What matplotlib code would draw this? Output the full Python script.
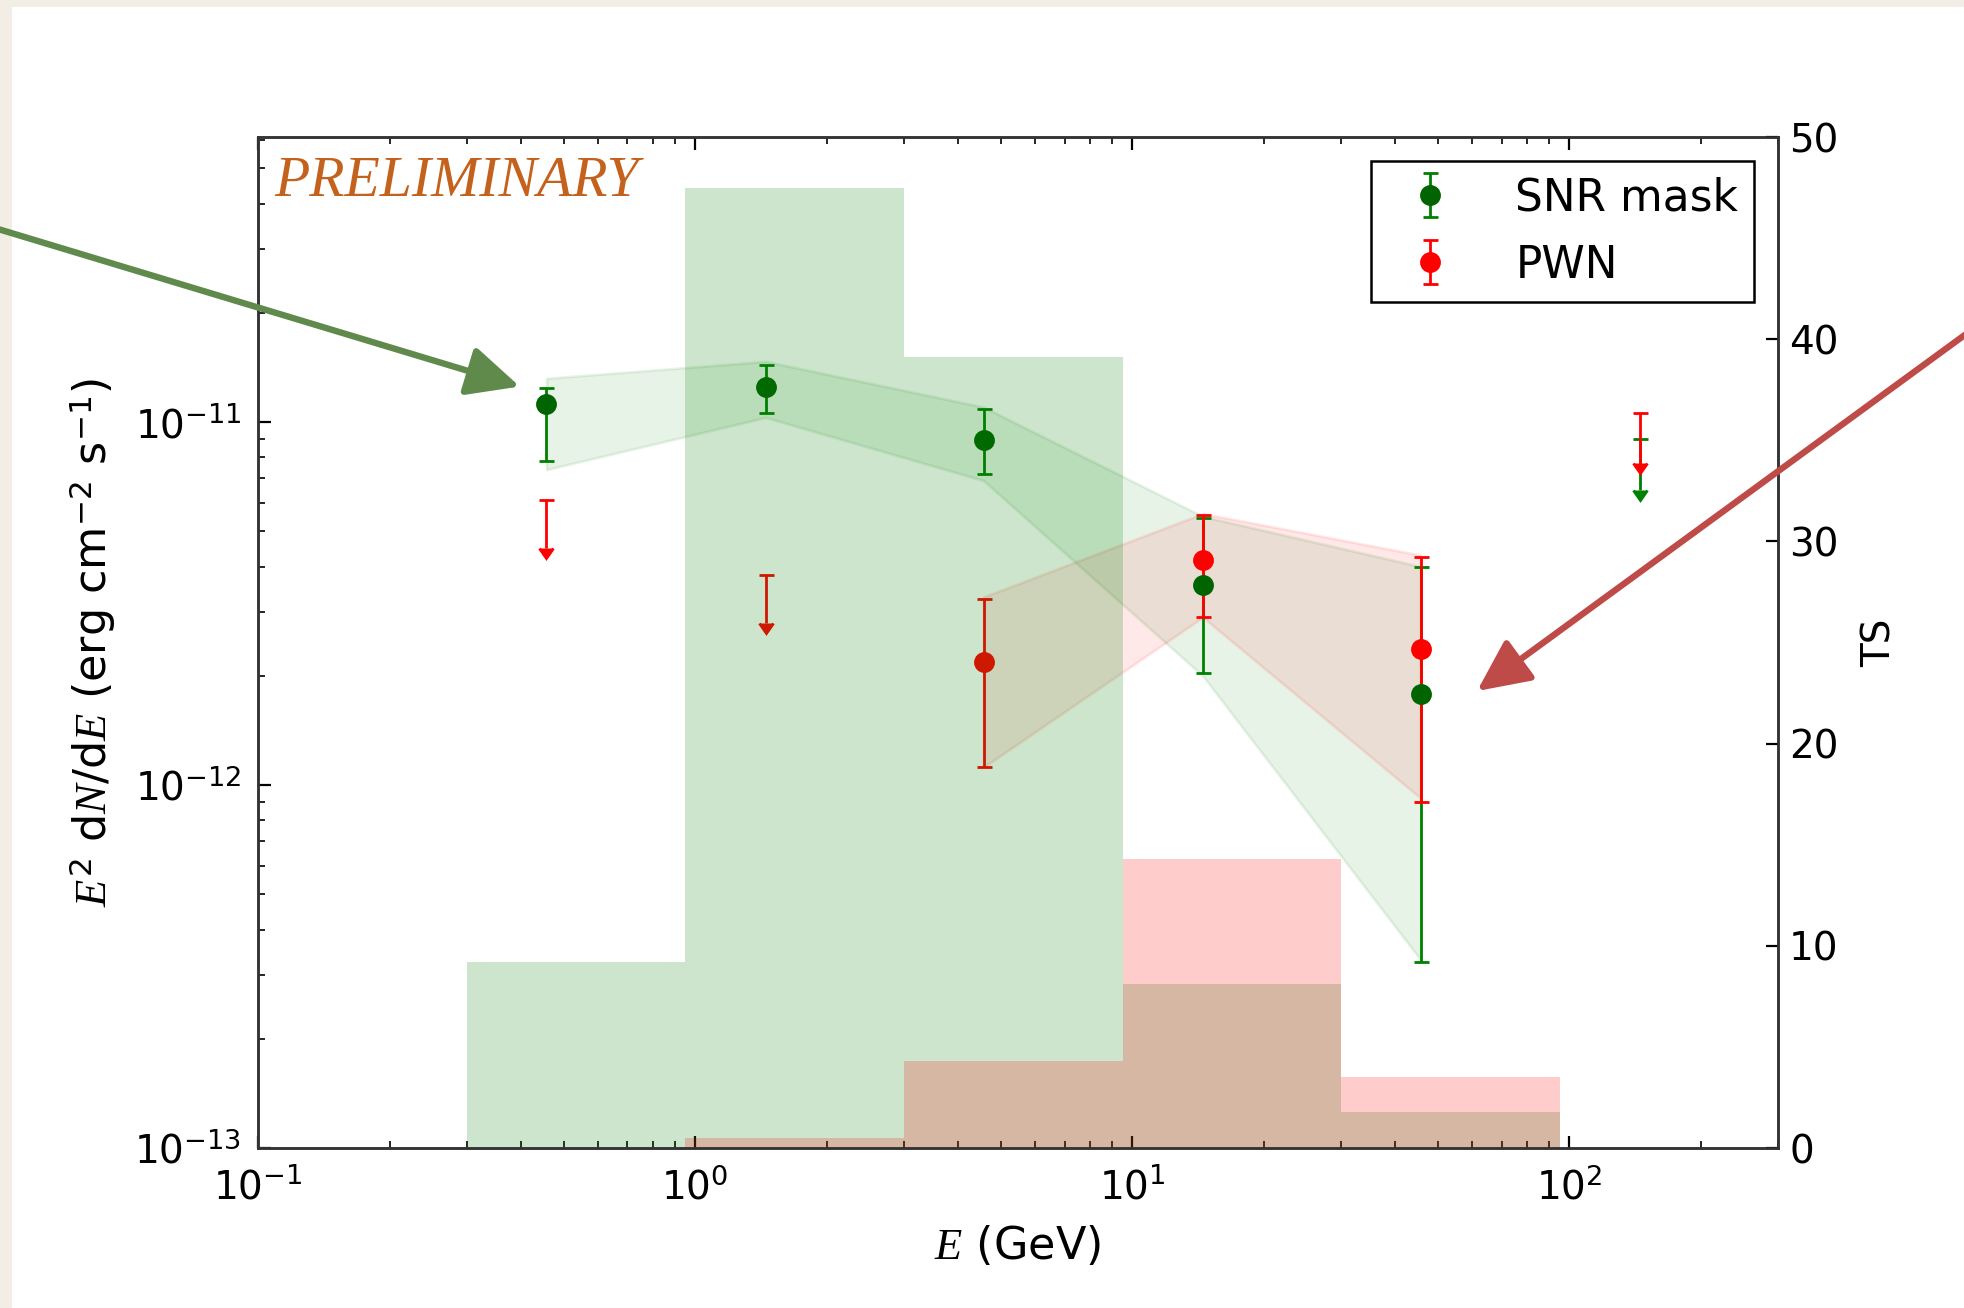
import numpy as np
import matplotlib
matplotlib.use("Agg")
import matplotlib.pyplot as plt
from matplotlib.patches import Rectangle, FancyArrowPatch
from matplotlib.lines import CARETDOWNBASE

plt.rcParams['font.family'] = ['DejaVu Sans']
plt.rcParams['mathtext.fontset'] = 'custom'
plt.rcParams['mathtext.rm'] = 'DejaVu Sans'
plt.rcParams['mathtext.it'] = 'Liberation Serif:italic'
plt.rcParams['mathtext.bf'] = 'DejaVu Sans:bold'

# energies of the SED points (GeV)
energy = [0.457, 1.45, 4.57, 14.5, 45.7, 145]

# SNR mask: detected points (first five bins)
snr_flux = [1.12e-11, 1.25e-11, 8.95e-12, 3.55e-12, 1.78e-12]
snr_lo = [7.8e-12, 1.06e-11, 7.2e-12, 2.03e-12, 3.25e-13]
snr_hi = [1.24e-11, 1.44e-11, 1.09e-11, 5.44e-12, 3.99e-12]
# SNR mask: upper limit in last bin (top, arrow)
snr_ul_E = [145]
snr_ul_top = [9.0e-12]
snr_ul_bot = [6.5e-12]

# PWN: detected points (bins 3-5)
pwn_E = [4.57, 14.5, 45.7]
pwn_flux = [2.18e-12, 4.16e-12, 2.37e-12]
pwn_lo = [1.12e-12, 2.90e-12, 9.0e-13]
pwn_hi = [3.26e-12, 5.53e-12, 4.26e-12]
# PWN upper limits
pwn_ul_E = [0.457, 1.45, 145]
pwn_ul_top = [6.1e-12, 3.8e-12, 1.06e-11]
pwn_ul_bot = [4.5e-12, 2.8e-12, 7.7e-12]

# butterfly bands
snr_band_hi = [1.32e-11, 1.47e-11, 1.10e-11, 5.5e-12, 4.0e-12]
snr_band_lo = [7.4e-12, 1.03e-11, 6.9e-12, 2.0e-12, 3.3e-13]
pwn_band_hi = [3.3e-12, 5.6e-12, 4.3e-12]
pwn_band_lo = [1.12e-12, 2.9e-12, 9.2e-13]

# TS per energy bin
ts_edges = [0.3, 0.95, 3.0, 9.5, 30.0, 95.0]
ts_snr = [9.2, 47.5, 39.1, 8.1, 1.8]
ts_pwn = [0.0, 0.5, 4.3, 14.3, 3.5]

fs_tick = 14
fs_lab = 16
fig = plt.figure(figsize=(9.825, 6.54), dpi=200, facecolor='#f2eee6')
fig.patches.append(Rectangle((12 / 1965, 0), 1, 1 - 7 / 1308, transform=fig.transFigure,
                             facecolor='white', edgecolor='none', zorder=-10))

ax = fig.add_axes([0.1313, 0.1223, 0.7735, 0.7729])
ax.set_xscale('log')
ax.set_yscale('log')
ax.set_xlim(0.1, 300)
ax.set_ylim(1e-13, 6.1e-11)

E5 = energy[:5]
ax.fill_between(E5, snr_band_lo, snr_band_hi, color='green', alpha=0.09, lw=1)
ax.fill_between(pwn_E, pwn_band_lo, pwn_band_hi, color='red', alpha=0.09, lw=1)

snr_err = [np.array(snr_flux) - np.array(snr_lo), np.array(snr_hi) - np.array(snr_flux)]
pwn_err = [np.array(pwn_flux) - np.array(pwn_lo), np.array(pwn_hi) - np.array(pwn_flux)]
h1 = ax.errorbar(E5, snr_flux, yerr=snr_err, fmt='o', color='darkgreen', ecolor='green',
                 ms=6.5, elinewidth=1.0, capsize=2.7, capthick=1.0, label='SNR mask')
h2 = ax.errorbar(pwn_E, pwn_flux, yerr=pwn_err, fmt='o', color='red', ecolor='red',
                 ms=6.5, elinewidth=1.0, capsize=2.7, capthick=1.0, label='PWN')

# upper limits: bar with cap on top, caret at bottom
for xs, top, bot, c in [(snr_ul_E, snr_ul_top, snr_ul_bot, 'green'),
                        (pwn_ul_E, pwn_ul_top, pwn_ul_bot, 'red')]:
    ax.vlines(xs, bot, top, color=c, lw=1.0)
    ax.plot(xs, top, ls='none', marker='_', ms=5.4, mew=1.0, color=c)
    ax.plot(xs, bot, ls='none', marker=CARETDOWNBASE, ms=5, color=c)

ax.tick_params(which='both', direction='in', top=True, labelsize=fs_tick)
ax.tick_params(which='major', length=4.5, width=0.8)
ax.tick_params(which='minor', length=2.5, width=0.6)
ax.tick_params(axis='x', pad=7)
ax.tick_params(axis='y', pad=6)
for s in ax.spines.values():
    s.set_linewidth(0.9)
    s.set_color('#333333')

ax.set_xlabel('$E$ (GeV)', fontsize=fs_lab, labelpad=6)
ax.set_ylabel('$E^2$ d$N$/d$E$ (erg cm$^{-2}$ s$^{-1}$)', fontsize=fs_lab, labelpad=6)

ax2 = ax.twinx()
ax2.stairs(ts_snr, ts_edges, fill=True, color='green', alpha=0.2, lw=0)
ax2.stairs(ts_pwn, ts_edges, fill=True, color='red', alpha=0.2, lw=0)
ax2.set_ylim(0, 50)
ax2.set_yticks([0, 10, 20, 30, 40, 50])
ax2.tick_params(direction='in', length=4.5, width=0.8, labelsize=fs_tick, pad=4)
ax2.set_ylabel('TS', fontsize=fs_tick, labelpad=8)
for s in ax2.spines.values():
    s.set_linewidth(0.9)
    s.set_color('#333333')

leg = ax2.legend([h1, h2], ['SNR mask', 'PWN'], loc='upper right', fontsize=15.8,
                 numpoints=1, fancybox=False, framealpha=1, edgecolor='black',
                 borderaxespad=0.55, labelspacing=0.55, handlelength=2.0,
                 handletextpad=0.95, borderpad=0.35)
leg.get_frame().set_linewidth(0.9)

ax.text(0.011, 0.981, 'PRELIMINARY', transform=ax.transAxes, ha='left', va='top',
        fontsize=20.8, fontstyle='italic', family='Liberation Serif', color='#c4621d')

# annotation arrows
fig.add_artist(FancyArrowPatch(
    (-0.01, 0.829), (0.2645, 0.7045), transform=fig.transFigure,
    arrowstyle='-|>,head_length=0.8,head_width=0.38', mutation_scale=20,
    color='#5f8a4c', lw=2.3, shrinkA=0, shrinkB=0))
fig.add_artist(FancyArrowPatch(
    (1.01, 0.755), (0.7517, 0.4717), transform=fig.transFigure,
    arrowstyle='-|>,head_length=0.8,head_width=0.38', mutation_scale=20,
    color='#be4b48', lw=2.3, shrinkA=0, shrinkB=0))

fig.savefig('out.png', dpi=200, facecolor=fig.get_facecolor())
